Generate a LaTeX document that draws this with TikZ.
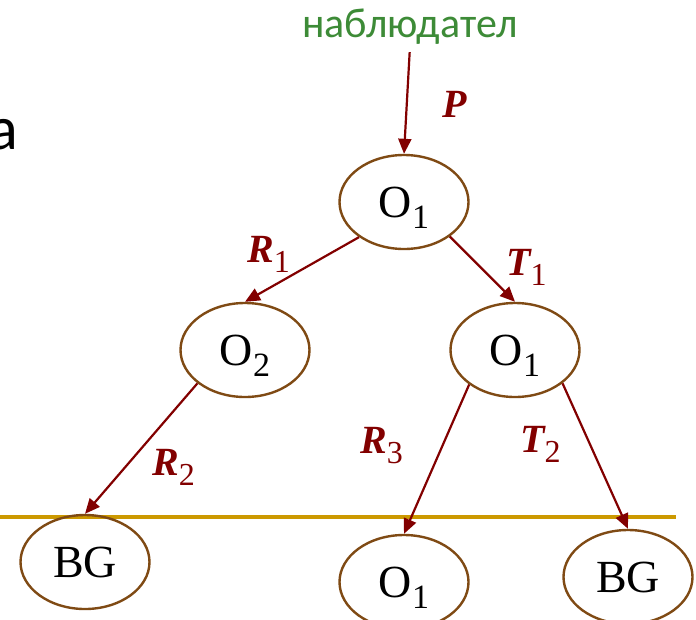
\documentclass[tikz,border=0pt]{standalone}
\usepackage{fontspec}
\setmainfont{Liberation Serif}
\newfontfamily\slidefont{Carlito}
\usepackage{xcolor}
\definecolor{Ink}{HTML}{000000}
\definecolor{Ray}{HTML}{820000}
\definecolor{Shell}{HTML}{7F4A14}
\definecolor{Ground}{HTML}{CC9900}
\definecolor{Viewer}{HTML}{3D8B37}
\usetikzlibrary{arrows.meta,shapes.geometric}
\newcommand\objname[2]{#1\raisebox{-11pt}[0pt][0pt]{\fontsize{34}{34}\selectfont #2}}
\newcommand\raylbl[2]{{\bfseries\itshape #1}\raisebox{-10pt}{\fontsize{32}{32}\selectfont #2}}
\tikzset{
  obj/.style={ellipse,draw=Shell,line width=2.4pt,minimum width=129pt,minimum height=94pt,
    inner sep=0pt,text=Ink,font=\fontsize{46}{50}\selectfont},
  ray/.style={-{Triangle[length=15pt,width=13pt]},line width=2.2pt,draw=Ray},
  lbl/.style={text=Ray,font=\fontsize{40}{44}\selectfont,inner sep=0pt,anchor=base west},
  viewer/.style={text=Viewer,font=\slidefont\fontsize{42}{46}\selectfont,inner sep=2pt},
  ground/.style={draw=Ground,line width=4pt}
}

\begin{document}
\begin{tikzpicture}[x=1pt,y=-1pt]
\useasboundingbox (0,0) rectangle (696,619);
\clip (0,0) rectangle (696,619);
\node[font=\slidefont\fontsize{62}{66}\selectfont,inner sep=0pt,anchor=base east] (cut) at (18,149) {a};
\node[viewer,anchor=base] (obs) at (410,37) {наблюдател};
\coordinate (gl) at (0,517);
\coordinate (gr) at (676,517);
\draw[ground] (gl) -- (gr);
\node[obj] (o1) at (404,202) {\objname{O}{1}};
\node[obj] (o2) at (245,350) {\objname{O}{2}};
\node[obj] (o1r) at (515,350) {\objname{O}{1}};
\node[obj] (bgl) at (85,562) {BG};
\node[obj] (ob) at (404,582) {\objname{O}{1}};
\node[obj] (bgr) at (628,577) {BG};
\draw[ray,shorten <=6pt] (obs.south) -- (o1.north);
\draw[ray] (o1.218) -- (o2.north);
\draw[ray] (o1.323) -- (o1r.north);
\draw[ray] (o2.215) -- (bgl.north);
\draw[ray] (o1r.217) -- (ob.north);
\draw[ray] (o1r.325) -- (bgr.north);
\node[lbl] (lp) at (442,117) {\bfseries\itshape P};
\node[lbl] (lr1) at (247,262) {\raylbl{R}{1}};
\node[lbl] (lt1) at (506,275) {\raylbl{T}{1}};
\node[lbl] (lr2) at (152,475) {\raylbl{R}{2}};
\node[lbl] (lr3) at (360,453) {\raylbl{R}{3}};
\node[lbl] (lt2) at (520,452) {\raylbl{T}{2}};
\end{tikzpicture}
\end{document}
